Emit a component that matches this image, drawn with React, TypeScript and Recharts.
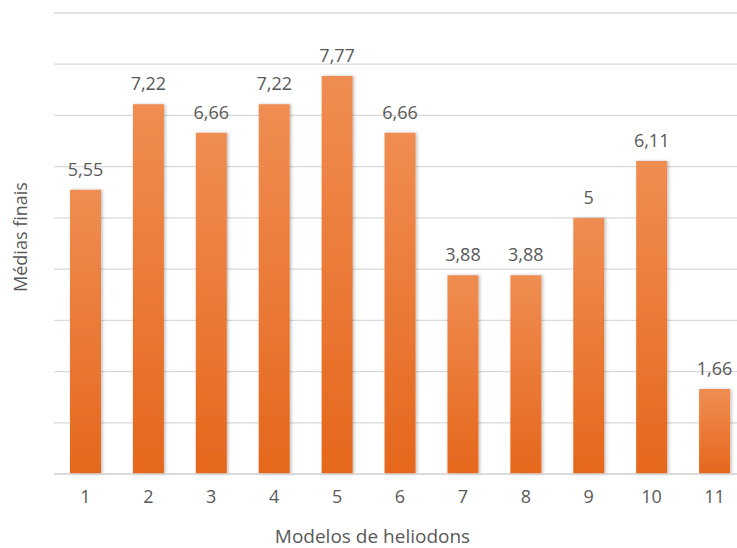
import React from 'react';
import { BarChart, Bar, XAxis, YAxis, CartesianGrid, LabelList } from 'recharts';

const categories = ['1', '2', '3', '4', '5', '6', '7', '8', '9', '10', '11'];
const medias = [5.55, 7.22, 6.66, 7.22, 7.77, 6.66, 3.88, 3.88, 5, 6.11, 1.66];
const yTicks = [0, 1, 2, 3, 4, 5, 6, 7, 8, 9];

const data = categories.map((c, i) => ({ modelo: c, media: medias[i] }));

const FONT = '"Open Sans", "Liberation Sans", sans-serif';
const TEXT = '#595959';

const fmt = (v: any) => String(v).replace('.', ',');

export default function App() {
  return (
    <div style={{ position: 'absolute', left: 0, top: 0, width: 737, height: 548, overflow: 'hidden', background: '#fff' }}>
      <BarChart
        width={752}
        height={548}
        data={data}
        margin={{ top: 13, right: 6, bottom: 40, left: 54 }}
        style={{ fontFamily: FONT }}
      >
        <defs>
          <linearGradient id="barGrad" x1="0" y1="0" x2="0" y2="1">
            <stop offset="0%" stopColor="#F08D52" />
            <stop offset="100%" stopColor="#E5671C" />
          </linearGradient>
          <filter id="shadow" x="-20%" y="-5%" width="140%" height="110%">
            <feDropShadow dx="1.5" dy="0" stdDeviation="1.5" floodColor="#000" floodOpacity="0.25" />
          </filter>
        </defs>
        <CartesianGrid vertical={false} stroke="#D9D9D9" strokeWidth={1.3} />
        <YAxis hide domain={[0, 9]} ticks={yTicks} width={0} />
        <XAxis
          dataKey="modelo"
          height={34}
          axisLine={{ stroke: '#D9D9D9', strokeWidth: 1.3 }}
          tickLine={false}
          tickMargin={10}
          tick={{ fill: TEXT, fontSize: 18, fontFamily: FONT }}
          interval={0}
        />
        <Bar dataKey="media" barSize={31} fill="url(#barGrad)" filter="url(#shadow)" isAnimationActive={false}>
          <LabelList
            dataKey="media"
            position="top"
            offset={14}
            formatter={fmt}
            style={{ fill: TEXT, fontSize: 18, fontFamily: FONT }}
          />
        </Bar>
      </BarChart>
      <div
        style={{
          position: 'absolute',
          left: 4,
          width: 737,
          top: 525,
          height: 22,
          lineHeight: '22px',
          textAlign: 'center',
          fontFamily: FONT,
          fontSize: 19,
          color: TEXT,
        }}
      >
        Modelos de heliodons
      </div>
      <div
        style={{
          position: 'absolute',
          left: 20,
          top: 237,
          transform: 'translate(-50%, -50%) rotate(-90deg)',
          whiteSpace: 'nowrap',
          lineHeight: '22px',
          fontFamily: FONT,
          fontSize: 18,
          color: TEXT,
        }}
      >
        Médias finais
      </div>
    </div>
  );
}
